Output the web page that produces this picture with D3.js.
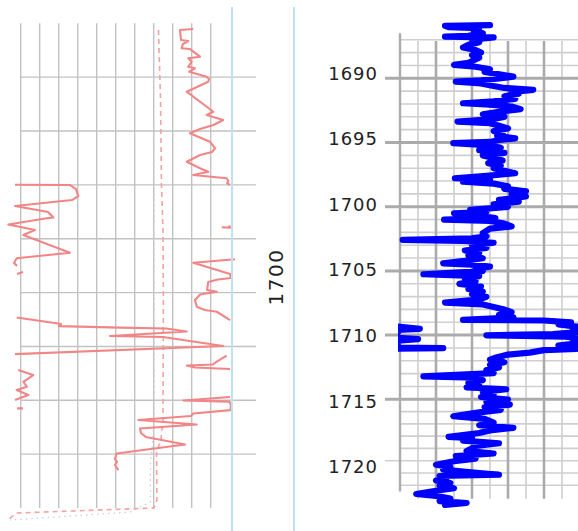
<!DOCTYPE html>
<html>
<head>
<meta charset="utf-8">
<script src="https://cdn.jsdelivr.net/npm/d3@7"></script>
<style>
  html, body { margin: 0; padding: 0; background: #fff; }
  svg { display: block; }
  text { font-family: "DejaVu Sans", Verdana, sans-serif; fill: #222; }
</style>
</head>
<body>
<svg id="chart" width="578" height="531"></svg>
<script>
// ---------------- data ----------------
// Left track: resistivity-style red curve, runs separated by null
const redDepth = [
  1685.53,1685.62,1686.55,1686.64,1686.92,1687.32,1687.39,1688.10,1688.25,1688.57,1689.03,1689.18,1689.49,1689.96,1690.17,1690.42,1691.35,1692.28,1693.21,1693.51,1693.98,1694.44,1694.81,1695.21,1695.99,1696.61,1696.95,1697.23,1697.85,1698.46,1698.78,1699.09,1699.39,1699.64,1699.83,1700.01,
  null,
  1703.93,1703.97,1703.76,
  null,
  1699.99,1700.01,1700.39,1701.04,1701.41,1701.96,1702.52,1703.03,1703.12,1703.68,1704.19,1704.66,1706.30,1706.82,1707.26,1707.54,
  null,
  1708.28,1708.09,
  null,
  1706.91,1707.23,1708.28,1708.65,1708.79,1709.02,1709.76,1709.92,1710.18,1710.69,1711.34,1711.62,1711.78,1712.55,
  null,
  1712.32,1712.87,1712.92,1713.11,1713.25,1713.34,1713.62,1714.03,1714.13,1714.96,1715.71,
  null,
  1715.85,1716.45,1716.68,1716.77,1716.96,1717.10,
  null,
  1717.19,1717.66,1718.28,1718.74,1719.05,1719.51,1719.98,
  null,
  1720.75,1720.75,
  null,
  1719.70,1720.02,1720.12,1720.44,1720.91,1721.23,1721.46,1721.83,1722.25,1722.62,1723.04,1723.41,1724.11,1724.94,1725.46,1725.73,1726.01,1726.48
];
const redValue = [
  90.8,83.8,84.4,88.2,85.4,84.7,89.1,94.4,88.2,90.0,88.2,91.7,88.7,97.9,99.1,98.7,87.4,94.4,101.4,97.9,106.6,101.4,94.4,89.1,99.6,102.3,100.7,94.4,87.4,94.4,98.7,90.8,108.4,109.3,108.6,110.2,
  null,
  105.8,110.2,109.7,
  null,
  -3.0,25.9,29.1,30.3,27.0,-3.0,14.4,17.2,12.8,-6.5,7.5,1.4,25.9,-2.1,-3.5,-1.9,
  null,
  -1.9,1.2,
  null,
  112.8,90.8,110.2,110.7,103.8,98.7,98.1,103.2,94.4,91.7,92.8,97.0,103.2,110.2,
  null,
  -2.1,19.6,21.2,20.2,52.3,76.5,87.4,47.0,74.9,106.6,-3.0,
  null,
  108.4,102.8,101.2,87.4,91.7,110.2,
  null,
  -1.3,6.6,1.4,3.2,-2.1,4.0,-3.0,
  null,
  -1.9,1.2,
  null,
  110.2,85.6,109.7,110.7,110.4,90.8,89.6,61.9,92.6,62.8,63.3,65.9,86.5,50.5,49.6,50.7,49.6,51.4
];

// Left track: dashed reference curve
const dashDepth = [1685.62,1692.12,1700.01,1704.19,1710.69,1721.83,1723.69,1724.81,1729.26,1730.0,1730.47,1731.21];
const dashValue = [72.5,73.6,74.1,74.9,75.1,74.9,73.8,71.5,71.7,70.2,-2.5,-7.2];

// Left track: faint dotted curve
const dotDepth = [1684.97,1701.41,1721.83,1724.62,1725.73,1729.44,1730.38,1731.12];
const dotValue = [69.9,70.2,70.2,69.1,68.3,68.3,57.5,-5.6];

// Right track: gamma ray log
const gammaDepth = [
  1685.86,1685.92,1686.02,1686.1,1686.3,1686.5,1686.7,1686.76,1686.82,1687.0,1687.2,1687.4,1687.6,1687.8,1688.0,1688.2,1688.4,1688.6,1688.8,1688.96,
  1689.1,1689.3,1689.5,1689.7,1689.87,1690.0,1690.15,1690.26,1690.4,1690.6,1690.75,1690.9,1691.05,1691.2,1691.4,1691.6,1691.8,1691.94,
  1692.05,1692.2,1692.4,1692.6,1692.8,1693.0,1693.2,1693.37,1693.5,1693.7,1693.9,1694.1,1694.3,1694.5,1694.67,1694.8,1694.95,1695.05,
  1695.2,1695.4,1695.6,1695.8,1696.0,1696.2,1696.4,1696.6,1696.8,1697.0,1697.2,1697.39,1697.6,1697.78,1697.9,1698.05,1698.2,1698.4,1698.6,1698.8,
  1699.0,1699.2,1699.46,1699.6,1699.8,1700.0,1700.24,1700.4,1700.5,1700.7,1700.88,1701.0,1701.1,1701.3,1701.53,1701.7,1702.05,1702.3,1702.45,1702.57,
  1702.65,1702.8,1703.0,1703.2,1703.4,1703.6,1703.8,1704.0,1704.2,1704.4,1704.5,1704.65,1704.8,1705.0,1705.25,1705.4,1705.6,1705.8,1706.0,1706.2,
  1706.4,1706.6,1706.8,1707.0,1707.2,1707.45,1707.6,1707.8,1708.0,1708.2,1708.4,1708.6,1708.8,1708.85,1709.0,1709.15,1709.3,1709.5,1709.6,1709.75,
  1709.9,1710.0,1710.1,1710.2,1710.3,1710.45,1710.6,1710.8,1710.95,1711.0,1711.05,1711.15,1711.35,1711.5,1711.7,1711.9,1712.1,1712.3,1712.5,1712.7,
  1712.95,1713.2,1713.3,1713.5,1713.7,1713.9,1714.05,1714.2,1714.4,1714.6,1714.8,1715.0,1715.2,1715.4,1715.6,1715.8,1716.0,1716.3,1716.5,1716.8,
  1717.0,1717.2,1717.4,1717.6,1717.9,1718.0,1718.2,1718.4,1718.6,1718.8,1719.0,1719.2,1719.4,1719.6,1719.8,1720.07,1720.25,1720.45,1720.65,1720.85,
  1720.95,1721.1,1721.3,1721.5,1721.7,1721.9,1722.1,1722.35,1722.5,1722.7,1722.9,1723.05,1723.2
];
const gammaValue = [
  50,25,27,44,41,46,38,25,52,40,44,38,35,42,45,40,44,41,38,30,
  42,50,47,56,63,55,45,31,45,52,58,74,62,66,58,64,52,35,
  50,62,67,55,46,58,50,32,50,55,60,52,57,54,64,55,50,29.6,
  48,56,44,58,46,52,57,49,56,52,58,64,48,30.5,50,35,52,60,58,70,
  62,70,55,66,52,60,39,48,30,44,53,24.5,50,58,62,50,46,48,40,1.5,
  35,52,40,48,36,44,38,46,36,24,40,50,42,46,13,44,36,42,33,45,
  38,46,40,48,44,25,46,52,58,62,55,63,35,80,95,88,97,111,96,99,
  85,48,92,98,110,96,99,88,97,124,98,80,72,60,54,50,58,50,55,48,
  52,13,42,46,38,44,37,59,46,52,45,60,48,61,47,56,44,29.6,47,52,
  44,63,50,44,27,40,35,55,42,40,37,52,31,42,30,20,28,24,38,55,
  22,26,20,28,22,30,20,9,20,28,22,37,25
];

// Depth ticks and grid
const leftGridDepths = [1690, 1695, 1700, 1705, 1710, 1715, 1720, 1725];
const leftGridValues = [0, 10, 20, 30, 40, 50, 60, 70, 80, 90, 100];
const depthLabels = [1690, 1695, 1700, 1705, 1710, 1715, 1720];
const heavyDepths = [1690, 1695, 1700, 1705, 1710, 1715];
const minorDepths = d3.range(1687, 1723);
const gridValues = [10, 20, 30, 40, 50, 60, 70, 80, 90];
const heavyValues = [20, 40, 60, 80];
const trackTitle = "1700";

// ---------------- layout ----------------
const W = 578, H = 531;
const svg = d3.select("#chart");

// left track scales
const yL = d3.scaleLinear().domain([1685, 1730]).range([23.3, 508]);
const xL = d3.scaleLinear().domain([0, 100]).range([20.7, 210.7]);
const leftGridRight = 256;
const leftBorder = 232, rightBorder = 294;

// right track scales
const yGrid = d3.scaleLinear().domain([1690, 1715, 1720]).range([78.3, 399.3, 460.7]);
const yTrack = d3.scaleLinear().domain([1690, 1710]).range([78.3, 335.3]);
const yLabel = d3.scaleLinear().domain([1690, 1720]).range([73.3, 466.7]);
const xR = d3.scaleLinear().domain([0, 100]).range([400, 580]);
const tickLeft = 385;

// ---------------- left track ----------------
const gL = svg.append("g");
gL.selectAll("line.lv").data(leftGridValues).join("line")
  .attr("x1", d => xL(d)).attr("x2", d => xL(d))
  .attr("y1", yL(1685)).attr("y2", yL(1730))
  .attr("stroke", "#c2c2c2").attr("stroke-width", 1.4);
gL.selectAll("line.lh").data(leftGridDepths).join("line")
  .attr("x1", xL(0)).attr("x2", leftGridRight)
  .attr("y1", d => yL(d)).attr("y2", d => yL(d))
  .attr("stroke", "#c2c2c2").attr("stroke-width", 1.4);

const zipPts = (ds, vs) => ds.map((d, i) => ({ d, v: vs[i] }));
const lineL = d3.line()
  .defined(p => p.d != null && p.v != null)
  .x(p => xL(p.v)).y(p => yL(p.d));

gL.append("path").datum(zipPts(dotDepth, dotValue))
  .attr("d", lineL).attr("fill", "none")
  .attr("stroke", "#c9c9f2").attr("stroke-width", 1.3)
  .attr("stroke-dasharray", "1.5,4");
gL.append("path").datum(zipPts(dashDepth, dashValue))
  .attr("d", lineL).attr("fill", "none")
  .attr("stroke", "#f5a3a3").attr("stroke-width", 1.6)
  .attr("stroke-dasharray", "5,4");
gL.append("path").datum(zipPts(redDepth, redValue))
  .attr("d", lineL).attr("fill", "none")
  .attr("stroke", "#f28585").attr("stroke-width", 2.1)
  .attr("stroke-linejoin", "round");

// track borders
svg.selectAll("line.border").data([leftBorder, rightBorder]).join("line")
  .attr("x1", d => d).attr("x2", d => d)
  .attr("y1", 7).attr("y2", H)
  .attr("stroke", "#bfe3ee").attr("stroke-width", 2);

svg.append("text")
  .attr("transform", "translate(275.5,277) rotate(-90)")
  .attr("text-anchor", "middle").attr("dy", "0.36em")
  .style("font-size", "20px").style("letter-spacing", "1.5px")
  .text(trackTitle);

// ---------------- right track ----------------
const gR = svg.append("g");
gR.selectAll("line.mh").data(minorDepths.filter(d => !heavyDepths.includes(d))).join("line")
  .attr("x1", d => depthLabels.includes(d) ? tickLeft : xR(0)).attr("x2", W)
  .attr("y1", d => yGrid(d)).attr("y2", d => yGrid(d))
  .attr("stroke", "#cfcfcf").attr("stroke-width", 1.6);
gR.selectAll("line.gv").data(gridValues).join("line")
  .attr("x1", d => xR(d)).attr("x2", d => xR(d))
  .attr("y1", yGrid(1687.1)).attr("y2", yGrid(1723.1))
  .attr("stroke", d => heavyValues.includes(d) ? "#ababab" : "#cfcfcf")
  .attr("stroke-width", d => heavyValues.includes(d) ? 2.6 : 1.6);
gR.selectAll("line.hh").data(heavyDepths).join("line")
  .attr("x1", tickLeft).attr("x2", W)
  .attr("y1", d => yGrid(d)).attr("y2", d => yGrid(d))
  .attr("stroke", "#ababab").attr("stroke-width", 3);
gR.append("line")
  .attr("x1", xR(0)).attr("x2", xR(0))
  .attr("y1", yGrid(1686.5)).attr("y2", yGrid(1722.5))
  .attr("stroke", "#ababab").attr("stroke-width", 2.4);

gR.selectAll("text.dl").data(depthLabels).join("text")
  .attr("x", 378).attr("y", d => yLabel(d)).attr("dy", "0.36em")
  .attr("text-anchor", "end")
  .style("font-size", "18px").style("letter-spacing", "1px")
  .text(d => d);

// clip regions: main scale and wrapped (backup) scale
const defs = svg.append("defs");
defs.append("clipPath").attr("id", "clipMain").append("rect")
  .attr("x", xR(0) - 5).attr("y", 0).attr("width", xR(100) - xR(0) + 5).attr("height", H);
defs.append("clipPath").attr("id", "clipWrap").append("rect")
  .attr("x", xR(0) - 2).attr("y", 0).attr("width", xR(100) - xR(0)).attr("height", H);

const gamma = zipPts(gammaDepth, gammaValue);
const lineR = d3.line().x(p => xR(p.v)).y(p => yTrack(p.d));
const lineWrap = d3.line().x(p => xR(p.v - 100)).y(p => yTrack(p.d));

gR.append("path").datum(gamma)
  .attr("clip-path", "url(#clipMain)")
  .attr("d", lineR).attr("fill", "none")
  .attr("stroke", "#0000ff").attr("stroke-width", 6.2)
  .attr("stroke-linejoin", "round").attr("stroke-linecap", "round");
gR.append("path").datum(gamma)
  .attr("clip-path", "url(#clipWrap)")
  .attr("d", lineWrap).attr("fill", "none")
  .attr("stroke", "#0000ff").attr("stroke-width", 6.2)
  .attr("stroke-linejoin", "round").attr("stroke-linecap", "round");
</script>
</body>
</html>
